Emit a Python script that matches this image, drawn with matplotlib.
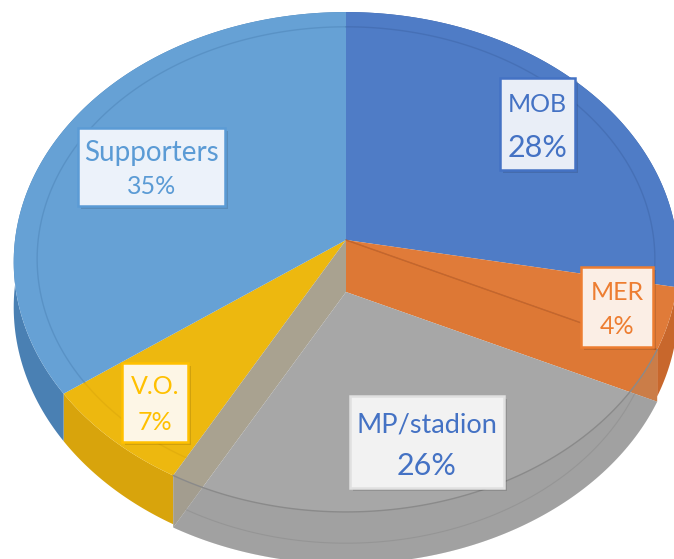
import numpy as np
import matplotlib.pyplot as plt
from matplotlib.patches import Polygon, Rectangle

# slices, clockwise from 12 o'clock
labels = ["MOB", "MER", "MP/stadion", "V.O.", "Supporters"]
shares = [28, 4, 26, 7, 35]
pct_text = ["28%", "4%", "26%", "7%", "35%"]

top_colors = ["#4F7CC6", "#E07B39", "#A7A7A7", "#EDB80F", "#66A1D5"]
wall_colors = ["#3C62A3", "#C8672C", "#9B9B9B", "#D8A40C", "#4A80B3"]
text_colors = ["#4472C4", "#ED7D31", "#4472C4", "#FFC000", "#5B9BD5"]
exploded = 2

# perspective ellipse for the pie top
CX, CY, A, B, K = 346, 240, 331, 248, 0.088
T = 45      # wall thickness (px)
DROP = 52   # downward shift of the exploded slice


def rim(t0, t1, r=1.0, n=120):
    th = np.radians(np.linspace(t0, t1, n))
    x, z = r * np.sin(th), r * np.cos(th)
    s = 1 + K * z
    return CX + A * x / s, CY - B * z / s, s


fig = plt.figure(figsize=(6.74, 5.59), dpi=100)
ax = fig.add_axes([0, 0, 1, 1])
ax.set_xlim(0, 674)
ax.set_ylim(559, 0)
ax.axis("off")

bounds = np.concatenate([[0], np.cumsum(shares)]) / sum(shares) * 360

# side walls
for i in range(len(shares)):
    if i == exploded:
        continue
    xs, ys, s = rim(bounds[i], bounds[i + 1])
    pts = np.column_stack([np.r_[xs, xs[::-1]], np.r_[ys, (ys + T / s)[::-1]]])
    ax.add_patch(Polygon(pts, closed=True, fc=wall_colors[i], ec="none"))

# top faces
for i in range(len(shares)):
    if i == exploded:
        continue
    xs, ys, s = rim(bounds[i], bounds[i + 1])
    pts = np.column_stack([np.r_[CX, xs], np.r_[CY, ys]])
    ax.add_patch(Polygon(pts, closed=True, fc=top_colors[i], ec="none"))
    bx, by, _ = rim(bounds[i], bounds[i + 1], r=0.93)
    ax.plot(bx, by, color=wall_colors[i], lw=1.0, alpha=0.45)

# radial faces exposed by the exploded slice
a0, a1 = bounds[exploded], bounds[exploded + 1]
xa, ya, _ = rim(a0, a0, n=1)
xb, yb, _ = rim(a1, a1, n=1)
ax.add_patch(Polygon([[CX, CY], [xa[0], ya[0]], [xa[0], ya[0] + DROP], [CX, CY + DROP]],
                     closed=True, fc="#DD7835", ec="none"))
ax.plot([CX, xa[0]], [CY, ya[0]], color="#B85A22", lw=1.0, alpha=0.8)
ax.add_patch(Polygon([[CX, CY], [xb[0], yb[0]], [xb[0], yb[0] + DROP], [CX, CY + DROP]],
                     closed=True, fc="#A9A290", ec="none"))

# exploded slice top
xs, ys, s = rim(a0, a1)
pts = np.column_stack([np.r_[CX, xs], np.r_[CY + DROP, ys + DROP]])
ax.add_patch(Polygon(pts, closed=True, fc=top_colors[exploded], ec="none"))
# outline of the original rim seen through
band = np.column_stack([np.r_[xs, xs[::-1]], np.r_[ys, (ys + DROP)[::-1]]])
ax.add_patch(Polygon(band, closed=True, fc="#8F8F8F", ec="none", alpha=0.22))
ax.plot(xs, ys, color="#8A8A8A", lw=1.0)
bx, by, _ = rim(a0, a1, r=0.93)
ax.plot(bx, by + DROP, color="#8A8A8A", lw=0.8, alpha=0.5)

# data labels: (box x0, y0, x1, y1, line1 y, line2 y, size1, size2)
boxes = [
    (500, 78, 575, 170, 105, 148, 18, 22),
    (581, 267, 653, 347, 293, 327, 18, 18),
    (350, 396, 504, 488, 425, 466, 19.5, 22),
    (122, 363, 188, 442, 386, 422, 18, 18),
    (78, 128, 225, 206, 153, 186, 20, 18),
]
box_faces = ["#E9EEF7", "#FBEEE5", "#F2F2F2", "#FDF6E6", "#ECF2FA"]
for i, (x0, y0, x1, y1, l1, l2, f1, f2) in enumerate(boxes):
    ax.add_patch(Rectangle((x0 + 3, y0 + 3), x1 - x0, y1 - y0, fc="black", ec="none",
                           alpha=0.12, zorder=5))
    ax.add_patch(Rectangle((x0, y0), x1 - x0, y1 - y0, fc=box_faces[i],
                           ec=text_colors[i] if i != exploded else "#E0E0E0", lw=1.8, zorder=6))
    xc = (x0 + x1) / 2
    ax.text(xc, l1, labels[i], ha="center", va="center", fontsize=f1,
            color=text_colors[i], family="Lato", zorder=7)
    ax.text(xc, l2, pct_text[i], ha="center", va="center", fontsize=f2,
            color=text_colors[i], family="Lato", zorder=7)

plt.savefig("out.png", dpi=100)
